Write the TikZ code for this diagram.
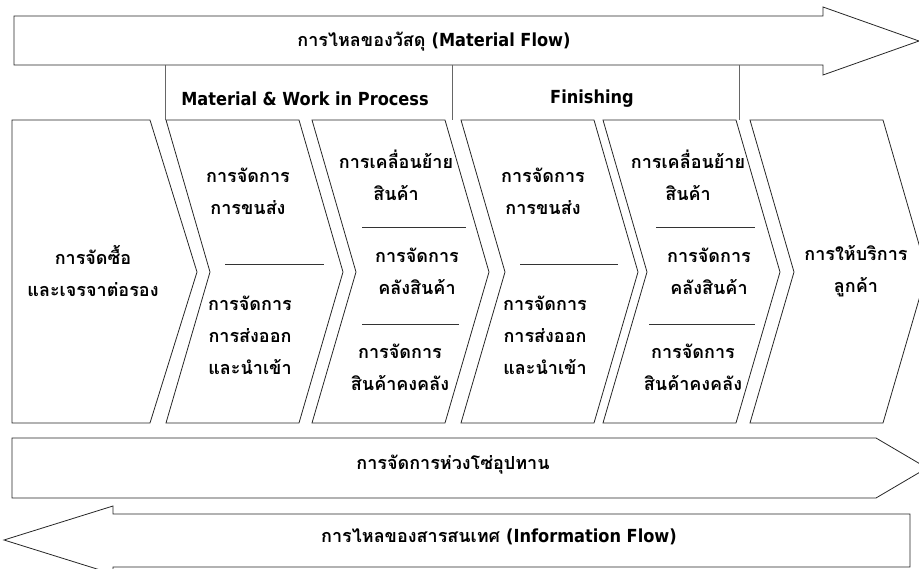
\documentclass[tikz,border=0pt]{standalone}
\usepackage{fontspec}
\usepackage{tikz}
\newfontfamily\thaifont[Script=Thai]{Loma}
\newfontfamily\latfont{DejaVu Sans Condensed}
\def\lat#1{{\latfont #1}}
\def\chevron(#1){\draw[chev] (#1,120) -- ++(133,0) -- ++(44,152) -- ++(-44,151) -- ++(-133,0) -- ++(44,-151) -- cycle;}

\tikzset{
  chev/.style={draw=black!85, line width=0.8pt},
  sep/.style={draw=black!80, line width=0.8pt},
  lbl/.style={font=\thaifont\bfseries\fontsize{18}{32}\selectfont, align=center, inner sep=0pt},
}

\begin{document}
\begin{tikzpicture}[x=1pt, y=-1pt]
		%%%%% START %%%%%
		\useasboundingbox (0,0) rectangle (919,569);
		
		% material flow
		\draw[chev] (14,16) -- (823,16) -- (823,7) -- (919,41) -- (823,75) -- (823,65) -- (14,65) -- cycle;
		\node[lbl] (mflow) at (434,42) {การไหลของวัสดุ \lat{(Material Flow)}};
		
		\draw[sep, draw=black!60] (165,65) -- (165,120);
		\draw[sep, draw=black!60] (452,65) -- (452,120);
		\draw[sep, draw=black!60] (739,65) -- (739,120);
		\node[lbl] (wip) at (305,99) {\lat{Material \& Work in Process}};
		\node[lbl] (fin) at (592,99) {\lat{Finishing}};
		
		% chevrons
		\draw[chev] (12,120) -- (150,120) -- (197,272) -- (150,423) -- (12,423) -- cycle;
		\foreach \x in {166,312,461,603,750}
			\chevron(\x);
		
		\draw[sep] (225,264) -- (324,264);
		\draw[sep] (520,264) -- (618,264);
		\draw[sep] (362,227) -- (466,227);
		\draw[sep] (362,324) -- (459,324);
		\draw[sep] (656,227) -- (755,227);
		\draw[sep] (649,324) -- (755,324);
		
		\node[lbl] (buy) at (93,271) {การจัดซื้อ\\และเจรจาต่อรอง};
		\node[lbl] (trans1) at (248,191) {การจัดการ\\การขนส่ง};
		\node[lbl] (ship1) at (250,335) {การจัดการ\\การส่งออก\\และนำเข้า};
		\node[lbl] (move1) at (396,175) {การเคลื่อนย้าย\\สินค้า};
		\node[lbl] (store1) at (417,271) {การจัดการ\\คลังสินค้า};
		\node[lbl] (stock1) at (400,367) {การจัดการ\\สินค้าคงคลัง};
		\node[lbl] (trans2) at (543,191) {การจัดการ\\การขนส่ง};
		\node[lbl] (ship2) at (545,335) {การจัดการ\\การส่งออก\\และนำเข้า};
		\node[lbl] (move2) at (688,175) {การเคลื่อนย้าย\\สินค้า};
		\node[lbl] (store2) at (709,271) {การจัดการ\\คลังสินค้า};
		\node[lbl] (stock2) at (693,367) {การจัดการ\\สินค้าคงคลัง};
		\node[lbl] (serv) at (856,271) {การให้บริการ\\ลูกค้า};
		
		% supply chain
		\draw[chev] (12,438) -- (876,438) -- (927,468) -- (876,498) -- (12,498) -- cycle;
		\node[lbl] (scm) at (453,465) {การจัดการห่วงโซ่อุปทาน};
		
		% information flow
		\draw[chev] (910,514) -- (113,514) -- (113,506) -- (4,540) -- (113,574) -- (113,567) -- (910,567) -- cycle;
		\node[lbl] (iflow) at (499,537) {การไหลของสารสนเทศ \lat{(Information Flow)}};
		
		%%%%% END %%%%%
\end{tikzpicture}
\end{document}
